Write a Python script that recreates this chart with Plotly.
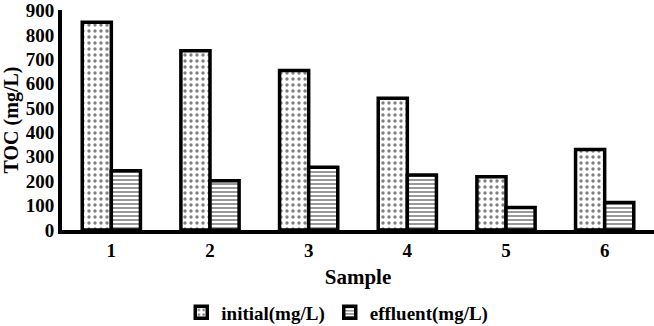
import plotly.graph_objects as go

samples = ["1", "2", "3", "4", "5", "6"]
initial = [852, 735, 654, 540, 218, 330]
effluent = [243, 202, 257, 225, 92, 113]
y_ticks = [0, 100, 200, 300, 400, 500, 600, 700, 800, 900]

FONT = "Liberation Serif, Times New Roman, serif"

fig = go.Figure()
fig.add_trace(go.Bar(
    x=samples, y=initial, name="initial(mg/L)",
    marker=dict(color="white",
                line=dict(color="black", width=3.5),
                pattern=dict(shape=".", fgcolor="black", bgcolor="white",
                             size=6, solidity=0.25)),
))
fig.add_trace(go.Bar(
    x=samples, y=effluent, name="effluent(mg/L)",
    marker=dict(color="white",
                line=dict(color="black", width=3.5),
                pattern=dict(shape="-", fgcolor="#333333", bgcolor="white",
                             size=4, solidity=0.5)),
))

fig.update_layout(
    width=654, height=326,
    margin=dict(l=62, r=0, t=10, b=96, autoexpand=False),
    paper_bgcolor="white", plot_bgcolor="white",
    barmode="group", bargap=0.41, bargroupgap=0,
    font=dict(family=FONT, size=19, color="black", weight="bold"),
    legend=dict(orientation="h", x=0.465, xanchor="center",
                y=-0.375, yanchor="middle",
                font=dict(family=FONT, size=19, color="black", weight="bold"),
                itemwidth=30, traceorder="normal"),
    showlegend=True,
)
fig.update_xaxes(
    automargin=False,
    showline=True, linecolor="black", linewidth=4,
    showgrid=False, ticks="", tickfont=dict(size=19, family=FONT, weight="bold"),
    title=dict(text="Sample", font=dict(size=21, family=FONT, weight="bold"), standoff=11),
)
fig.update_yaxes(
    automargin=False, ticklabeloverflow="allow",
    range=[0, 902], tickvals=y_ticks,
    showline=True, linecolor="black", linewidth=4,
    showgrid=False, zeroline=False, ticks="",
    tickfont=dict(size=19, family=FONT, weight="bold"),
    title=dict(text="TOC (mg/L)", font=dict(size=20, family=FONT, weight="bold"), standoff=3),
)

fig.write_html("out.html", post_script="document.body.style.margin='0';",
               config={"displayModeBar": False})
